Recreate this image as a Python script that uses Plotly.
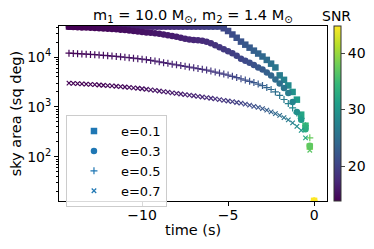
import math
import plotly.graph_objects as go

# ---- data ----
time_s = [-14.25, -14.0, -13.75, -13.5, -13.25, -13.0, -12.75, -12.5, -12.25, -12.0,
          -11.75, -11.5, -11.25, -11.0, -10.75, -10.5, -10.25, -10.0,
          -9.75, -9.5, -9.25, -9.0, -8.75, -8.5, -8.25, -8.0,
          -7.75, -7.5, -7.25, -7.0, -6.75, -6.5, -6.25, -6.0,
          -5.75, -5.5, -5.25, -5.0, -4.75, -4.5, -4.25, -4.0,
          -3.75, -3.5, -3.25, -3.0, -2.75, -2.5, -2.25, -2.0,
          -1.75, -1.5, -1.25, -1.0, -0.75, -0.5, -0.25, 0.0]

area_e01 = [41253, 41253, 41253, 41253, 41253, 41253, 41253, 41253, 41253, 41253,
            41253, 41253, 41253, 41253, 41253, 41253, 41253, 41253,
            41253, 41253, 41253, 41253, 41253, 41253, 41253, 41253,
            41253, 41253, 41253, 41253, 41253, 41253, 41253, 41253,
            41253, 41253, 38000, 33500, 28500, 24500, 20500, 17800,
            15500, 13500, 11800, 10300, 8800, 7400, 6200, 4300,
            3500, 2700, 2000, 1400, 700, 420, 160, 13]

area_e03 = [40740, 40270, 39810, 39540, 39170, 38900, 38460, 38020, 37580, 37150,
            36730, 36310, 35650, 35080, 34280, 33500, 32730, 31990,
            31410, 30900, 30340, 29510, 28510, 27540, 26610, 25700,
            24550, 23440, 22650, 22130, 21880, 21380, 20420, 19050,
            17380, 15850, 14450, 13180, 12020, 10720, 9330, 8510,
            7760, 6920, 6170, 5620, 4900, 4270, 3550, 2950,
            2400, 1910, 1260, 794, 550, 355, 166, 13]

area_e05 = [12020, 11890, 11750, 11610, 11480, 11350, 11220, 11040, 10860, 10720,
            10520, 10330, 10140, 9950, 9770, 9550, 9330, 9120,
            8910, 8610, 8320, 8040, 7760, 7500, 7240, 7000,
            6760, 6530, 6310, 6100, 5890, 5690, 5500, 5250,
            5010, 4790, 4570, 4370, 4120, 3890, 3670, 3470,
            3270, 3090, 2880, 2690, 2450, 2240, 2000, 1700,
            1410, 1170, 955, 759, 589, 417, 240, 13]

area_e07 = [3000, 2972, 2938, 2904, 2871, 2838, 2799, 2761, 2723, 2685,
            2642, 2600, 2559, 2512, 2466, 2421, 2371, 2323,
            2270, 2208, 2148, 2089, 2032, 1977, 1923, 1871,
            1820, 1770, 1722, 1675, 1629, 1585, 1538, 1493,
            1449, 1403, 1358, 1315, 1274, 1230, 1189, 1135,
            1084, 1028, 977, 923, 861, 794, 733, 676,
            610, 550, 479, 407, 339, 240, 135, 13]

snr_e01 = [15.0, 15.1, 15.2, 15.3, 15.4, 15.5, 15.6, 15.7, 15.8, 15.9,
           16.0, 16.1, 16.2, 16.3, 16.4, 16.5, 16.6, 16.8,
           16.9, 17.0, 17.2, 17.3, 17.5, 17.6, 17.8, 17.9,
           18.1, 18.3, 18.5, 18.7, 18.9, 19.1, 19.3, 19.6,
           19.8, 20.1, 20.4, 20.7, 21.0, 21.4, 21.8, 22.2,
           22.6, 23.1, 23.6, 24.1, 24.7, 25.3, 26.0, 26.7,
           27.5, 28.4, 29.4, 30.6, 32.0, 34.5, 38.5, 44.8]

snr_e03 = [13.5, 13.6, 13.7, 13.8, 13.9, 14.0, 14.1, 14.2, 14.3, 14.4,
           14.5, 14.6, 14.7, 14.8, 14.9, 15.0, 15.1, 15.3,
           15.4, 15.5, 15.7, 15.8, 16.0, 16.1, 16.3, 16.4,
           16.6, 16.8, 17.0, 17.2, 17.4, 17.6, 17.8, 18.1,
           18.3, 18.6, 18.9, 19.2, 19.5, 19.9, 20.3, 20.7,
           21.1, 21.6, 22.1, 22.6, 23.2, 23.8, 24.5, 25.2,
           26.0, 26.9, 27.9, 29.1, 30.5, 33.0, 37.0, 44.8]

snr_e05 = [14.0, 14.1, 14.2, 14.3, 14.4, 14.5, 14.6, 14.7, 14.8, 14.9,
           15.0, 15.1, 15.2, 15.3, 15.4, 15.5, 15.6, 15.8,
           15.9, 16.0, 16.2, 16.3, 16.5, 16.6, 16.8, 16.9,
           17.1, 17.3, 17.5, 17.7, 17.9, 18.1, 18.3, 18.6,
           18.8, 19.1, 19.4, 19.7, 20.0, 20.4, 20.8, 21.2,
           21.6, 22.1, 22.6, 23.1, 23.7, 24.3, 25.0, 25.7,
           26.5, 27.4, 28.4, 29.6, 31.0, 33.5, 37.5, 44.8]

snr_e07 = [13.2, 13.3, 13.4, 13.5, 13.6, 13.7, 13.8, 13.9, 14.0, 14.1,
           14.2, 14.3, 14.4, 14.5, 14.6, 14.7, 14.8, 15.0,
           15.1, 15.2, 15.4, 15.5, 15.7, 15.8, 16.0, 16.1,
           16.3, 16.5, 16.7, 16.9, 17.1, 17.3, 17.5, 17.8,
           18.0, 18.3, 18.6, 18.9, 19.2, 19.6, 20.0, 20.4,
           20.8, 21.3, 21.8, 22.3, 22.9, 23.5, 24.2, 24.9,
           25.7, 26.6, 27.6, 28.8, 30.2, 32.7, 36.7, 44.8]

series_labels = ["e=0.1", "e=0.3", "e=0.5", "e=0.7"]
x_tick_vals = [-10, -5, 0]
y_tick_vals = [100, 1000, 10000]
y_tick_text = ["10<sup>2</sup>", "10<sup>3</sup>", "10<sup>4</sup>"]
y_minor_vals = [20, 30, 40, 50, 60, 70, 80, 90,
                200, 300, 400, 500, 600, 700, 800, 900,
                2000, 3000, 4000, 5000, 6000, 7000, 8000, 9000,
                20000, 30000, 40000]
cbar_tick_vals = [20, 30, 40]
snr_min, snr_max = 13.8, 44.8
full_sky = 41253
min_area = 13

FONT = "DejaVu Sans"
FS_TICK = 14
FS_LABEL = 14.5
FS_TITLE = 14.5
FS_LEGEND = 13

symbols = ["square", "circle", "cross-thin", "x-thin"]
sizes = [6.5, 6.5, 5.0, 4.5]
areas = [area_e01, area_e03, area_e05, area_e07]
snrs = [snr_e01, snr_e03, snr_e05, snr_e07]

fig = go.Figure()
for sym, size, area, snr in zip(symbols, sizes, areas, snrs):
    thin = sym.endswith("-thin")
    marker = dict(symbol=sym, size=size, color=snr, coloraxis="coloraxis")
    if thin:
        marker["line"] = dict(width=1.2, color=snr, coloraxis="coloraxis")
    else:
        marker["line"] = dict(width=0)
    fig.add_trace(go.Scatter(x=time_s, y=area, mode="markers", marker=marker,
                             showlegend=False, hoverinfo="skip"))

for lab, sym, size in zip(series_labels, symbols, sizes):
    thin = sym.endswith("-thin")
    fig.add_trace(go.Scatter(
        x=[None], y=[None], mode="markers", name=lab,
        marker=dict(symbol=sym, size=size, color="#1f77b4",
                    line=dict(width=1.2 if thin else 0, color="#1f77b4"))))

# the page body has an 8px default margin, so the figure is 8px smaller
# and its margins are reduced by 8px on the left/top
fig.update_layout(
    width=366, height=241,
    margin=dict(l=51, r=47, t=18, b=48, autoexpand=False),
    paper_bgcolor="white", plot_bgcolor="white",
    font=dict(family=FONT, size=FS_TICK, color="black"),
    coloraxis=dict(
        colorscale="Viridis", cmin=snr_min, cmax=snr_max,
        colorbar=dict(
            x=1.026, xanchor="left", xref="paper", y=0.5, yanchor="middle",
            len=1, lenmode="fraction", thickness=7, thicknessmode="pixels",
            xpad=0, ypad=0, outlinewidth=1, outlinecolor="#333333",
            tickvals=cbar_tick_vals, ticks="outside", ticklen=4, tickwidth=1,
            tickfont=dict(family=FONT, size=FS_TICK, color="black"),
        ),
    ),
    legend=dict(
        x=0.026, y=0.491, xanchor="left", yanchor="top",
        bgcolor="rgba(255,255,255,0.85)", bordercolor="#cccccc", borderwidth=1,
        font=dict(family=FONT, size=FS_LEGEND, color="black"),
        tracegroupgap=0, itemsizing="trace", itemwidth=44,
    ),
    xaxis=dict(
        range=[-14.83, 0.75], tickvals=x_tick_vals, ticks="outside", ticklen=4,
        tickwidth=1, tickcolor="black", showgrid=False, zeroline=False,
        showline=True, linecolor="black", linewidth=1, mirror=True,
        ticklabelstandoff=-3,
        tickfont=dict(family=FONT, size=FS_TICK, color="black"),
    ),
    yaxis=dict(
        type="log", range=[math.log10(min_area) - 0.003, math.log10(full_sky) + 0.01],
        tickvals=y_tick_vals, ticktext=y_tick_text, ticks="outside", ticklen=4,
        tickwidth=1, tickcolor="black", showgrid=False, zeroline=False,
        showline=True, linecolor="black", linewidth=1, mirror=True,
        tickfont=dict(family=FONT, size=FS_TICK, color="black"),
        minor=dict(tickvals=y_minor_vals, ticks="outside", ticklen=2,
                   tickwidth=0.8, tickcolor="black", showgrid=False),
    ),
    annotations=[
        dict(text="m<sub>1</sub> = 10.0 M<sub>\u2299</sub>, m<sub>2</sub> = 1.4 M<sub>\u2299</sub>",
             x=0.5, y=1.055, xref="paper", yref="paper", xanchor="center",
             yanchor="middle", showarrow=False, font=dict(family=FONT, size=FS_TITLE)),
        dict(text="SNR", x=1.037, y=1.055, xref="paper", yref="paper",
             xanchor="center", yanchor="middle", showarrow=False,
             font=dict(family=FONT, size=FS_TICK)),
        dict(text="time (s)", x=0.5, y=-0.166, xref="paper", yref="paper",
             xanchor="center", yanchor="middle", showarrow=False,
             font=dict(family=FONT, size=FS_LABEL)),
        dict(text="sky area (sq deg)", x=-0.159, y=0.503, xref="paper", yref="paper",
             xanchor="center", yanchor="middle", textangle=-90, showarrow=False,
             font=dict(family=FONT, size=FS_LABEL)),
    ],
)

fig.write_html("out.html")
